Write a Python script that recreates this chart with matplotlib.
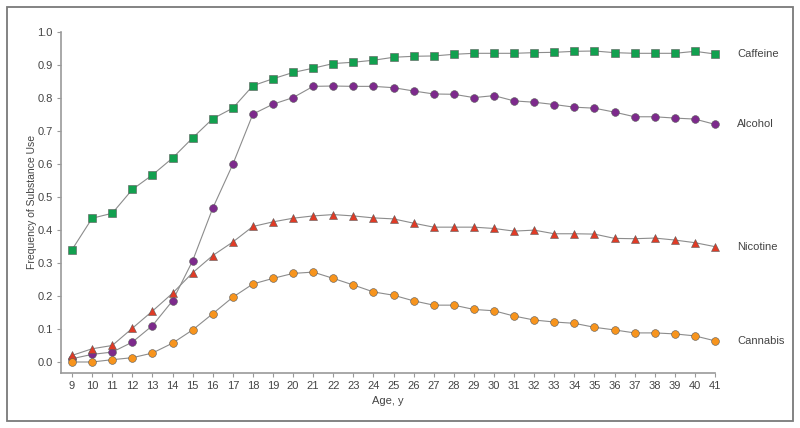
import matplotlib
matplotlib.use('Agg')
import matplotlib.pyplot as plt
from matplotlib.patches import Rectangle

plt.rcParams['font.family'] = ['Liberation Sans', 'DejaVu Sans']

ages = list(range(9, 42))

caffeine = [0.340, 0.435, 0.450, 0.522, 0.566, 0.617, 0.678, 0.736, 0.768, 0.836,
            0.857, 0.876, 0.889, 0.903, 0.907, 0.913, 0.922, 0.925, 0.926, 0.931,
            0.934, 0.934, 0.934, 0.936, 0.937, 0.940, 0.941, 0.936, 0.934, 0.934,
            0.934, 0.940, 0.932]
alcohol = [0.010, 0.023, 0.030, 0.060, 0.110, 0.185, 0.306, 0.465, 0.598, 0.750,
           0.780, 0.800, 0.834, 0.835, 0.834, 0.834, 0.830, 0.820, 0.811, 0.810,
           0.800, 0.806, 0.790, 0.786, 0.779, 0.771, 0.768, 0.756, 0.742, 0.742,
           0.738, 0.735, 0.719]
nicotine = [0.020, 0.040, 0.050, 0.102, 0.154, 0.208, 0.270, 0.322, 0.363, 0.410,
            0.424, 0.435, 0.442, 0.446, 0.442, 0.436, 0.433, 0.420, 0.408, 0.408,
            0.408, 0.404, 0.396, 0.399, 0.388, 0.388, 0.387, 0.374, 0.373, 0.375,
            0.369, 0.361, 0.349]
cannabis = [0.000, 0.000, 0.007, 0.013, 0.027, 0.057, 0.097, 0.146, 0.196, 0.236,
            0.253, 0.268, 0.272, 0.253, 0.233, 0.212, 0.202, 0.185, 0.172, 0.172,
            0.159, 0.155, 0.139, 0.127, 0.121, 0.117, 0.105, 0.097, 0.088, 0.088,
            0.085, 0.079, 0.064]

series = [
    ('Caffeine', caffeine, 's', '#12a04f', 5.2),
    ('Alcohol', alcohol, 'o', '#7d2a8c', 5.6),
    ('Nicotine', nicotine, '^', '#e03b26', 6),
    ('Cannabis', cannabis, 'o', '#f7941d', 5.6),
]

txt = '#444444'

fig = plt.figure(figsize=(8, 4.28), dpi=100)
fig.patches.append(Rectangle((7 / 800, 7 / 428), 786 / 800, 414 / 428,
                             transform=fig.transFigure, fill=False,
                             edgecolor='#7a7a7a', linewidth=1.3))

ax = fig.add_axes([61 / 800, 55 / 428, 654 / 800, 341.5 / 428])

for name, vals, mk, col, ms in series:
    ax.plot(ages, vals, color='#8c8c8c', linewidth=0.8, zorder=2, clip_on=False)
    ax.plot(ages, vals, linestyle='none', marker=mk, markersize=ms,
            markerfacecolor=col, markeredgecolor='#5a5a5a', markeredgewidth=0.4,
            zorder=3, clip_on=False)
    ax.annotate(name, xy=(ages[-1], vals[-1]), xytext=(16, 0),
                textcoords='offset points', va='center', ha='left',
                fontsize=8, color=txt)

ax.set_xlim(8.45, 41)
ax.set_ylim(-0.0333, 1.0)
ax.set_xticks(ages)
ax.set_yticks([i / 10 for i in range(11)])
ax.set_yticklabels(['%.1f' % (i / 10) for i in range(11)])

for s in ['top', 'right']:
    ax.spines[s].set_visible(False)
for s in ['left', 'bottom']:
    ax.spines[s].set_color('#999999')
    ax.spines[s].set_linewidth(1.2)

ax.tick_params(axis='both', direction='out', length=3, width=0.8,
               color='#999999', labelsize=8, labelcolor=txt, pad=3)

ax.set_xlabel('Age, y', fontsize=8, color=txt, labelpad=3)
ax.set_ylabel('Frequency of Substance Use', fontsize=7.5, color=txt, labelpad=0)

fig.savefig('out.png', dpi=100)
